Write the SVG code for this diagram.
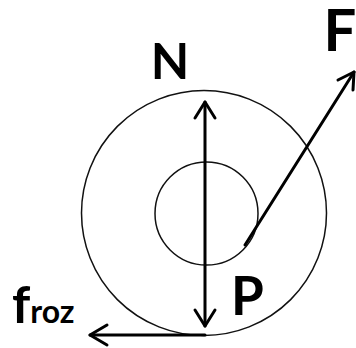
<svg xmlns="http://www.w3.org/2000/svg" width="356" height="348" viewBox="0 0 356 348">
<style>
.c{fill:none;stroke:#111;stroke-width:1.5}
.a{fill:none;stroke:#000;stroke-width:3;stroke-linecap:round;stroke-linejoin:round}
.t{font-family:Lato,"Open Sans","Liberation Sans",sans-serif;font-weight:700;fill:#000}
</style>
<rect width="356" height="348" fill="#fff"/>
<g id="wheel-outer"><circle class="c" cx="204" cy="213" r="122.5"/></g>
<g id="wheel-inner"><circle class="c" cx="206.5" cy="213.5" r="51.5"/></g>
<g id="connectors">
<path class="a" d="M205,102 L205,326"/>
<path class="a" d="M195,118 L205,102 L215,118"/>
<path class="a" d="M195,310 L205,326 L215,310"/>
<path class="a" d="M205,335 L90,335"/>
<path class="a" d="M107,325 L90,335 L107,345"/>
<path class="a" d="M245,245 L354,72"/>
<path class="a" d="M338,80 L354,72 L353,90"/>
</g>
<g id="label-N"><text class="t" x="170" y="79" font-size="50" text-anchor="middle">N</text></g>
<g id="label-F"><text class="t" x="340" y="51" font-size="58" text-anchor="middle">F</text></g>
<g id="label-P"><text class="t" x="247.5" y="315" font-size="53" text-anchor="middle">P</text></g>
<g id="label-froz"><text class="t" x="12" y="323" font-size="51">f<tspan font-size="32">roz</tspan></text></g>
</svg>
